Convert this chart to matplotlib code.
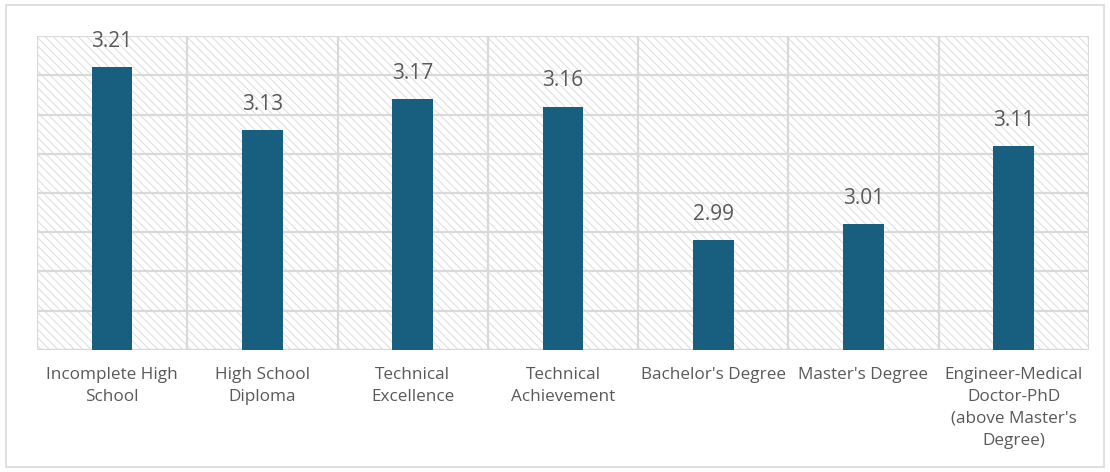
import matplotlib
matplotlib.use("Agg")
import matplotlib.pyplot as plt
from matplotlib.patches import Rectangle

categories = [
    "Incomplete High\nSchool",
    "High School\nDiploma",
    "Technical\nExcellence",
    "Technical\nAchievement",
    "Bachelor's Degree",
    "Master's Degree",
    "Engineer-Medical\nDoctor-PhD\n(above Master's\nDegree)",
]
values = [3.21, 3.13, 3.17, 3.16, 2.99, 3.01, 3.11]
y_min, y_max, y_step = 2.85, 3.25, 0.05

bar_color = "#175E7F"
grid_color = "#D9D9D9"
text_color = "#595959"

plt.rcParams["font.family"] = ["Open Sans", "DejaVu Sans"]
plt.rcParams["hatch.color"] = "#DCDCDC"
plt.rcParams["hatch.linewidth"] = 0.7

fig = plt.figure(figsize=(11.1, 4.72), dpi=100)
fig.patches.append(Rectangle((0.005, 0.01), 0.99, 0.98, transform=fig.transFigure,
                             facecolor="white", edgecolor=grid_color, linewidth=1.2,
                             zorder=-10))
ax = fig.add_axes([0.0333, 0.2585, 0.9477, 0.6652])

ax.set_facecolor("white")
ax.patch.set_hatch("\\\\\\\\")
ax.patch.set_edgecolor("#DCDCDC")

x = list(range(len(categories)))
ax.bar(x, values, width=0.27, color=bar_color, zorder=3)

for xi, v in zip(x, values):
    ax.annotate(f"{v:.2f}", (xi, v), xytext=(0, 11), textcoords="offset points",
                ha="center", va="bottom", fontsize=15, color=text_color, zorder=4)

ax.set_xlim(-0.5, len(categories) - 0.5)
ax.set_ylim(y_min, y_max)
n = int(round((y_max - y_min) / y_step))
ax.set_yticks([y_min + i * y_step for i in range(n + 1)])
ax.set_yticklabels([])
ax.set_xticks([i + 0.5 for i in range(-1, len(categories))], minor=False)
ax.set_xticklabels([])
ax.set_xticks(x, minor=True)
ax.set_xticklabels(categories, minor=True, fontsize=12.3, color=text_color, linespacing=1.5)
ax.tick_params(axis="both", which="both", length=0)
ax.tick_params(axis="x", which="minor", pad=12)
ax.grid(True, which="major", color=grid_color, linewidth=1.6, zorder=1)
ax.set_axisbelow(True)
for s in ax.spines.values():
    s.set_visible(False)
ax.axhline(y_min, color=grid_color, linewidth=1.6, zorder=2)

fig.savefig("out.png", dpi=100)
